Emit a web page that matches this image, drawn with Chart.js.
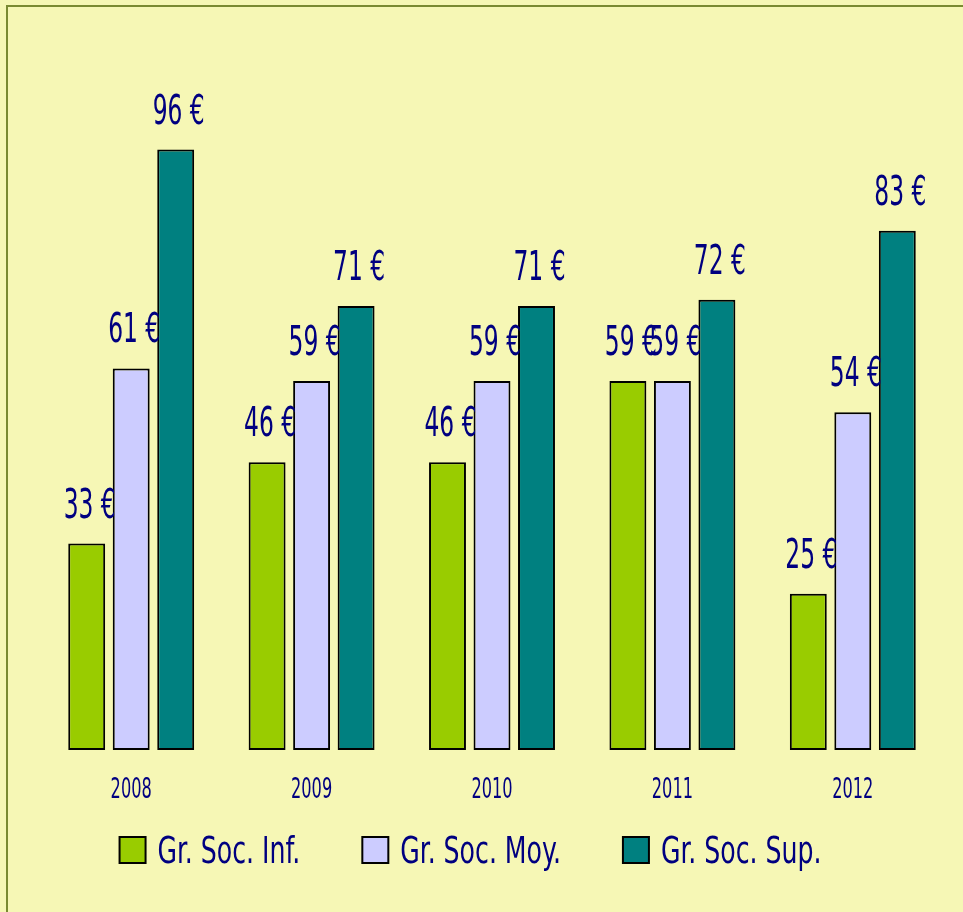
<!DOCTYPE html>
<html>
<head>
<meta charset="utf-8">
<script src="https://cdn.jsdelivr.net/npm/chart.js@4"></script>
<style>
  html, body { margin: 0; padding: 0; background: #f6f7b5; }
  #frame {
    position: absolute; left: 6px; top: 5px; width: 980px; height: 940px;
    border-left: 2px solid #7a8a32; border-top: 2px solid #7a8a32;
  }
  #wrap { position: absolute; left: 0; top: 0; width: 963px; height: 912px; }
</style>
</head>
<body>
<div id="frame"></div>
<div id="wrap"><canvas id="myChart" width="963" height="912"></canvas></div>
<script>
const years = ["2008", "2009", "2010", "2011", "2012"];
const seriesNames = ["Gr. Soc. Inf.", "Gr. Soc. Moy.", "Gr. Soc. Sup."];
const infValues = [33, 46, 46, 59, 25];
const moyValues = [61, 59, 59, 59, 54];
const supValues = [96, 71, 71, 72, 83];

const fontFamily = '"DejaVu Sans Condensed", "Liberation Sans Narrow", sans-serif';
const navy = "#000080";

// draws text squeezed horizontally, to mimic the tall narrow font of the original
function narrowText(ctx, text, x, y, size, sx, align) {
  ctx.save();
  ctx.font = size + "px " + fontFamily;
  ctx.fillStyle = navy;
  ctx.textAlign = align;
  ctx.textBaseline = "alphabetic";
  ctx.translate(x, y);
  ctx.scale(sx, 1);
  ctx.fillText(text, 0, 0);
  ctx.restore();
}

const narrowLabels = {
  id: "narrowLabels",
  afterDraw(chart) {
    const ctx = chart.ctx;
    // values above bars
    chart.data.datasets.forEach((ds, i) => {
      chart.getDatasetMeta(i).data.forEach((bar, j) => {
        narrowText(ctx, ds.data[j] + " €", bar.x + 3, bar.y - 26, 40, 0.65, "center");
      });
    });
    // category labels under the axis
    const xs = chart.scales.x;
    chart.data.labels.forEach((lab, i) => {
      narrowText(ctx, lab, xs.getPixelForTick(i), xs.top + 48, 29, 0.62, "center");
    });
    // legend texts, placed at the legend's own hit boxes
    const lg = chart.legend;
    const opts = lg.options.labels;
    lg.legendItems.forEach((item, i) => {
      const hb = lg.legendHitBoxes[i];
      const w = hb.width - opts.boxWidth - opts.font.size / 2;
      ctx.save();
      ctx.font = "38px " + fontFamily;
      ctx.fillStyle = navy;
      ctx.textBaseline = "alphabetic";
      ctx.fillText(item.text, hb.left + opts.boxWidth + 12, hb.top + 27, w);
      ctx.restore();
    });
  },
};

const ctx = document.getElementById("myChart").getContext("2d");
const myChart = new Chart(ctx, {
  type: "bar",
  data: {
    labels: years,
    datasets: [
      {
        label: seriesNames[0],
        data: infValues,
        backgroundColor: "#99cc00",
        borderColor: "#000000",
        borderWidth: 2,
        borderSkipped: false,
      },
      {
        label: seriesNames[1],
        data: moyValues,
        backgroundColor: "#ccccff",
        borderColor: "#000000",
        borderWidth: 2,
        borderSkipped: false,
      },
      {
        label: seriesNames[2],
        data: supValues,
        backgroundColor: "#008080",
        borderColor: "#000000",
        borderWidth: 2,
        borderSkipped: false,
      },
    ],
  },
  options: {
    responsive: false,
    animation: false,
    categoryPercentage: 0.74,
    barPercentage: 0.83,
    layout: {
      padding: { left: 0, right: 20, top: 62, bottom: 38 },
    },
    scales: {
      x: {
        grid: { display: false, drawTicks: false },
        border: { display: false },
        ticks: { display: false },
        afterFit: (scale) => {
          scale.height = 26;
        },
      },
      y: {
        min: 0,
        max: 110,
        grid: { display: false, drawTicks: false },
        border: { display: false },
        ticks: { display: false },
        afterFit: (scale) => {
          scale.width = 41;
        },
      },
    },
    plugins: {
      legend: {
        display: true,
        position: "bottom",
        labels: {
          color: "rgba(0,0,0,0)",
          boxWidth: 26,
          boxHeight: 26,
          padding: 60,
          font: { family: fontFamily, size: 28 },
        },
      },
      tooltip: { enabled: false },
    },
  },
  plugins: [narrowLabels],
});
</script>
</body>
</html>
